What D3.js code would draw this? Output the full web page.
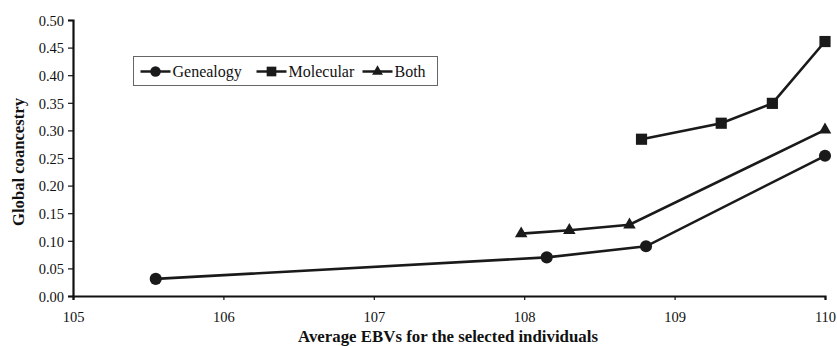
<!DOCTYPE html>
<html>
<head>
<meta charset="utf-8">
<script src="https://cdn.jsdelivr.net/npm/d3@7"></script>
<style>
  body { margin: 0; background: #fff; }
  svg text { font-family: "Liberation Serif", "Times New Roman", serif; }
</style>
</head>
<body>
<svg width="837" height="346"></svg>
<script>
const seriesNames = ["Genealogy", "Molecular", "Both"];
const genealogyX = [105.55, 108.15, 108.81, 110.0];
const genealogyY = [0.031, 0.070, 0.090, 0.254];
const molecularX = [108.78, 109.31, 109.65, 110.0];
const molecularY = [0.284, 0.313, 0.349, 0.461];
const bothX = [107.98, 108.30, 108.70, 110.0];
const bothY = [0.113, 0.119, 0.129, 0.301];
const xTicks = [105, 106, 107, 108, 109, 110];
const yTicks = [0, 0.05, 0.1, 0.15, 0.2, 0.25, 0.3, 0.35, 0.4, 0.45, 0.5];

const margin = { top: 20, right: 12, bottom: 50, left: 73 };
const svgSel = d3.select("svg");
const width = +svgSel.attr("width") - margin.left - margin.right;
const height = +svgSel.attr("height") - margin.top - margin.bottom;

const svg = svgSel.append("g")
    .attr("transform", `translate(${margin.left},${margin.top})`);

const x = d3.scaleLinear().domain([105, 110]).range([0, width]);
const y = d3.scaleLinear().domain([0, 0.5]).range([height, 0]);

// axes
const xAxis = svg.append("g")
    .attr("transform", `translate(0,${height})`)
    .call(d3.axisBottom(x).tickValues(xTicks).tickSize(4).tickFormat(d3.format("d")));
const yAxis = svg.append("g")
    .call(d3.axisLeft(y).tickValues(yTicks).tickSize(5).tickFormat(d3.format(".2f")));

[xAxis, yAxis].forEach(a => {
    a.attr("font-family", null);
    a.select(".domain").attr("stroke", "#111").attr("stroke-width", 2.2);
    a.selectAll(".tick line").attr("stroke", "#111").attr("stroke-width", 1.2);
    a.selectAll("text").attr("fill", "#111").style("font-size", "14.5px");
});
xAxis.selectAll("text").attr("dy", "1.3em");
yAxis.selectAll("text").attr("x", -9).attr("dy", "0.36em");

const series = [
    { name: seriesNames[0], xs: genealogyX, ys: genealogyY, symbol: d3.symbolCircle, size: 115 },
    { name: seriesNames[1], xs: molecularX, ys: molecularY, symbol: d3.symbolSquare, size: 125 },
    { name: seriesNames[2], xs: bothX, ys: bothY, symbol: d3.symbolTriangle, size: 68 }
];

const line = d3.line().x(d => x(d[0])).y(d => y(d[1]));

series.forEach(s => {
    const pts = s.xs.map((v, i) => [v, s.ys[i]]);
    svg.append("path")
        .datum(pts)
        .attr("fill", "none")
        .attr("stroke", "#1a1a1a")
        .attr("stroke-width", 2.6)
        .attr("d", line);
    svg.selectAll(null)
        .data(pts)
        .enter().append("path")
        .attr("transform", d => `translate(${x(d[0])},${y(d[1])})`)
        .attr("d", d3.symbol().type(s.symbol).size(s.size))
        .attr("fill", "#1a1a1a");
});

// legend
const legend = svgSel.append("g").attr("transform", "translate(133.5,56.5)");
legend.append("rect")
    .attr("width", 304).attr("height", 29)
    .attr("fill", "#fff").attr("stroke", "#666").attr("stroke-width", 1);
const legendX = [7, 123, 229];
series.forEach((s, i) => {
    const g = legend.append("g").attr("transform", `translate(${legendX[i]},15)`);
    g.append("line").attr("x1", 0).attr("x2", 30).attr("stroke", "#1a1a1a").attr("stroke-width", 2.5);
    g.append("path").attr("transform", "translate(15,0)")
        .attr("d", d3.symbol().type(s.symbol).size(s.size * 0.75))
        .attr("fill", "#1a1a1a");
    g.append("text").attr("x", 32).attr("y", 5.5)
        .style("font-size", "16px").attr("fill", "#111").text(s.name);
});

// axis titles, sized to the span they take in the original
function fitText(sel, target) {
    const len = sel.node().getComputedTextLength();
    const fs = parseFloat(sel.style("font-size"));
    sel.style("font-size", (fs * target / len).toFixed(2) + "px");
}
const xTitle = svgSel.append("text")
    .attr("x", 448).attr("y", 342)
    .attr("text-anchor", "middle").attr("fill", "#111")
    .style("font-size", "14px").style("font-weight", "bold")
    .text("Average EBVs for the selected individuals");
fitText(xTitle, 300);
const yTitle = svgSel.append("text")
    .attr("transform", "translate(24,162) rotate(-90)")
    .attr("text-anchor", "middle").attr("fill", "#111")
    .style("font-size", "14px").style("font-weight", "bold")
    .text("Global coancestry");
fitText(yTitle, 128);
</script>
</body>
</html>
